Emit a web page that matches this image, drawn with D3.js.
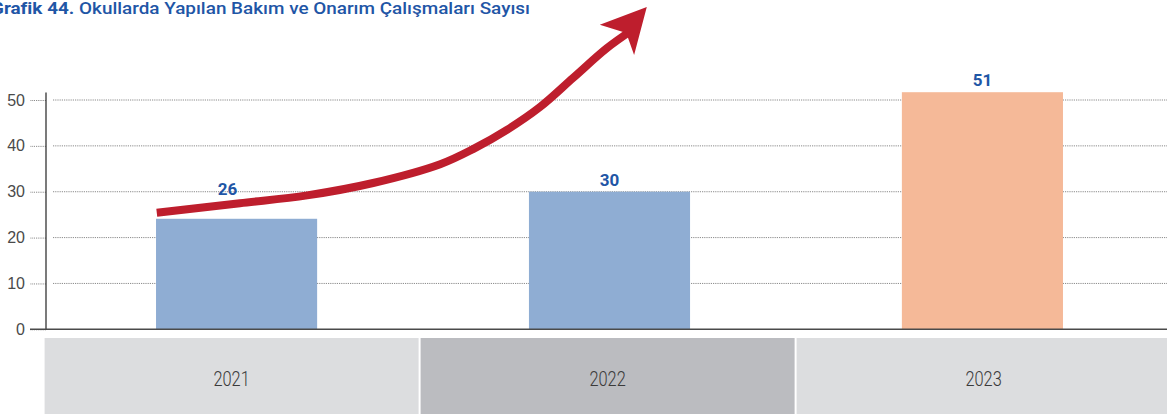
<!DOCTYPE html>
<html lang="tr">
<head>
  <meta charset="UTF-8">
  <title>Grafik 44</title>
  <script src="https://d3js.org/d3.v7.min.js"></script>
  <style>
  body { margin: 0; background: #fff; }
  svg { display: block; font-family: Roboto, "DejaVu Sans", sans-serif; }
  .grid line { stroke: #6d6d6d; stroke-width: 0.8px; stroke-dasharray: 1.2,1; }
  .y.axis line { stroke: #6d6d6d; stroke-width: 0.8px; stroke-dasharray: 1.2,1; }
  .y.axis path { display: none; }
  .y.axis text { font-size: 16px; font-weight: 300; fill: #4a4a4a; }
  .value { font-size: 17px; font-weight: 700; fill: #1f56a6; text-anchor: middle; }
  .year { font-size: 20px; font-weight: 300; fill: #3a3a3a; text-anchor: middle; }
  </style>
</head>
<body>
  <div class="container"></div>
  <script>
  // data
  var years = ["2021", "2022", "2023"];
  var barValues = [24.1, 30, 51.7];       // bar heights as drawn
  var valueLabels = ["26", "30", "51"];   // printed labels
  var barColors = ["#8fadd3", "#8fadd3", "#f5b998"];
  var boxColors = ["#dcdddf", "#bbbcc0", "#dcdddf"];
  var yTicks = [0, 10, 20, 30, 40, 50];
  // trend arrow: [position in category steps from 2021 centre, value]
  var arrowShaft = [[-0.214, 25.4], [0.009, 27.5], [0.189, 29.2], [0.366, 31.9], [0.546, 36.0],
                    [0.634, 39.3], [0.725, 43.5], [0.814, 48.5], [0.902, 54.8], [0.993, 61.3], [1.06, 65.2]];
  var arrowHead = [[1.100, 70.3], [0.974, 66.4], [1.045, 64.6], [1.066, 59.8]];

  var w = 1167, h = 414;
  var axisX = 46, y0 = 329.3;

  var svg = d3.select('.container').append('svg')
      .attr('width', w).attr('height', h);

  var yScale = d3.scaleLinear().domain([0, 50]).range([y0, 100]);
  var xScale = d3.scaleBand().domain(years).range([49, 1170])
      .paddingInner(0.568).paddingOuter(0.287);
  var boxScale = d3.scaleBand().domain(years).range([44.6, 1172.6]);
  var stepScale = d3.scaleLinear().domain([0, 1])
      .range([xScale(years[0]) + xScale.bandwidth() / 2, xScale(years[1]) + xScale.bandwidth() / 2]);

  // title
  var title = svg.append('text')
      .attr('x', -9).attr('y', 14)
      .attr('textLength', 539).attr('lengthAdjust', 'spacingAndGlyphs')
      .style('font-size', '17px').style('fill', '#1f56a6');
  title.append('tspan').style('font-weight', 700).text('Grafik 44.');
  title.append('tspan').style('font-weight', 500).text(' Okullarda Yapılan Bakım ve Onarım Çalışmaları Sayısı');

  // gridlines
  svg.append('g').attr('class', 'grid')
    .selectAll('line').data(yTicks.filter(function(d){ return d > 0; }))
    .enter().append('line')
    .attr('x1', 53).attr('x2', w)
    .attr('y1', function(d){ return yScale(d); })
    .attr('y2', function(d){ return yScale(d); });

  // y axis
  var yAxis = d3.axisLeft(yScale).tickValues(yTicks).tickSize(16).tickPadding(5);
  svg.append('g').attr('class', 'y axis')
      .attr('transform', 'translate(' + axisX + ',0)')
      .call(yAxis);
  svg.append('line')
      .attr('x1', axisX).attr('x2', axisX)
      .attr('y1', 92.5).attr('y2', y0)
      .attr('stroke', '#333').attr('stroke-width', 1.3);

  // bars
  svg.append('g').selectAll('rect').data(barValues).enter().append('rect')
      .attr('x', function(d, i){ return xScale(years[i]); })
      .attr('y', function(d){ return yScale(d); })
      .attr('width', xScale.bandwidth())
      .attr('height', function(d){ return y0 - yScale(d); })
      .attr('fill', function(d, i){ return barColors[i]; });

  // baseline
  svg.append('line')
      .attr('x1', 30).attr('x2', w)
      .attr('y1', y0).attr('y2', y0)
      .attr('stroke', '#4a4a4a').attr('stroke-width', 1.6);

  // category boxes
  var boxes = svg.append('g').selectAll('g').data(years).enter().append('g');
  boxes.append('rect')
      .attr('x', function(d){ return boxScale(d); })
      .attr('y', 338)
      .attr('width', boxScale.bandwidth() - 2)
      .attr('height', h - 338)
      .attr('fill', function(d, i){ return boxColors[i]; });
  boxes.append('text').attr('class', 'year')
      .attr('transform', function(d){
        return 'translate(' + (boxScale(d) + boxScale.bandwidth() / 2 - 1) + ',386) scale(0.82,1)';
      })
      .text(function(d){ return d; });

  // trend arrow
  var shaftPx = arrowShaft.map(function(p){ return [stepScale(p[0]), yScale(p[1])]; });
  var line_generator = d3.line().curve(d3.curveCatmullRom);
  svg.append('path')
      .attr('d', line_generator(shaftPx))
      .attr('fill', 'none')
      .attr('stroke', '#be1e2d')
      .attr('stroke-width', 8);
  svg.append('path')
      .attr('d', d3.line()(arrowHead.map(function(p){ return [stepScale(p[0]), yScale(p[1])]; })) + 'Z')
      .attr('fill', '#be1e2d');

  // value labels, lifted above the arrow where it runs just over a bar
  function arrowYAt(x) {
    for (var k = 1; k < shaftPx.length; k++) {
      if (shaftPx[k][0] >= x) {
        var a = shaftPx[k - 1], b = shaftPx[k];
        return a[1] + (b[1] - a[1]) * (x - a[0]) / (b[0] - a[0]);
      }
    }
    return -Infinity;
  }
  svg.append('g').selectAll('text').data(barValues).enter().append('text')
      .attr('class', 'value')
      .attr('x', function(d, i){ return xScale(years[i]) + xScale.bandwidth() / 2 - (i === 0 ? 9 : 0); })
      .attr('y', function(d, i){
        var cx = xScale(years[i]) + xScale.bandwidth() / 2;
        var top = yScale(d);
        var ay = arrowYAt(cx);
        if (ay > top - 28 && ay < top + 10) return ay - 9;
        return top - 6;
      })
      .text(function(d, i){ return valueLabels[i]; });
  </script>
</body>
</html>
